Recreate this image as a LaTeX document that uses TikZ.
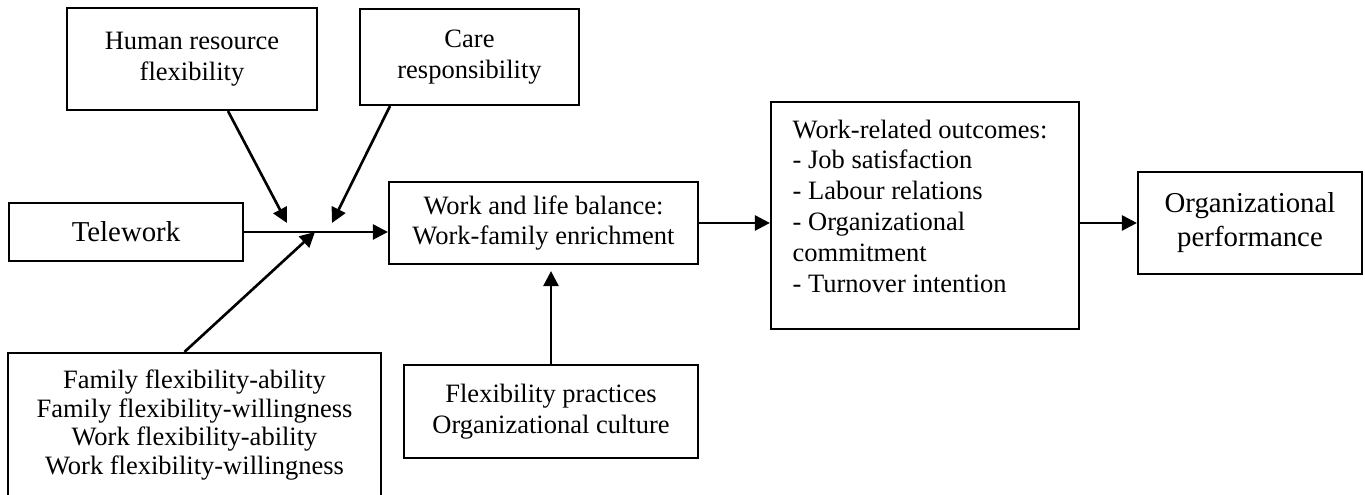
\documentclass[tikz,border=0pt]{standalone}
\usepackage{fontspec}
\setmainfont{Liberation Serif}
\usetikzlibrary{arrows.meta,calc}

\begin{document}
\begin{tikzpicture}[
  box/.style={draw, line width=.62pt, inner sep=0pt, align=center,
    font=\fontsize{7.54}{8.76}\selectfont},
  bigbox/.style={box, font=\fontsize{8.2}{9.7}\selectfont},
  arr/.style={line width=.75pt, -{Triangle[length=1.5mm,width=1.5mm]}}]
\useasboundingbox (0,0) rectangle (13.65,4.95);
  % moderators on top
  \node[box, minimum width=2.5cm, minimum height=1.02cm] (hrf) at (1.92,4.36) {Human resource\\flexibility};
  \node[box, minimum width=2.19cm, minimum height=.96cm] (care) at (4.695,4.38) {Care\\responsibility};
  % main chain
  \node[bigbox, minimum width=2.34cm, minimum height=.58cm] (tele) at (1.26,2.63) {Telework};
  \node[box, minimum width=3.09cm, minimum height=.82cm] (wlb) at (5.435,2.72) {Work and life balance:\\Work-family enrichment};
  \node[box, minimum width=3.08cm, minimum height=2.27cm] (outc) at (9.25,2.795) {};
  \node[anchor=north west, inner sep=0pt, align=left, font=\fontsize{7.54}{8.76}\selectfont] (outctxt) at (7.92,3.76)
    {Work-related outcomes:\\- Job satisfaction\\- Labour relations\\- Organizational\\commitment\\- Turnover intention};
  \node[bigbox, minimum width=2.24cm, minimum height=1.02cm] (perf) at (12.5,2.72) {Organizational\\performance};
  % bottom boxes (the family one runs off the page)
  \node[box, font=\fontsize{7.54}{8.2}\selectfont, minimum width=3.73cm, minimum height=1.44cm] (fam) at (1.945,.70)
    {Family flexibility-ability\\Family flexibility-willingness\\Work flexibility-ability\\Work flexibility-willingness};
  \node[box, minimum width=2.94cm, minimum height=.93cm] (prac) at (5.51,.835) {Flexibility practices\\Organizational culture};

  \coordinate (hrtip) at (2.87,2.72);
  \coordinate (caretip) at (3.32,2.72);
  \coordinate (famtip) at (3.15,2.63);

  \draw[arr] (tele.east) -- (tele.east -| wlb.west);
  \draw[arr] ([xshift=.36cm]hrf.south) -- (hrtip);
  \draw[arr] ([xshift=-.795cm]care.south) -- (caretip);
  \draw[arr] ([xshift=-.1cm]fam.north) -- (famtip);
  \draw[arr] (wlb.east) -- (wlb.east -| outc.west);
  \draw[arr] (outc.east |- perf) -- (perf.west);
  \draw[arr, shorten >=.6mm] (prac.north) -- (prac.north |- wlb.south);
\end{tikzpicture}
\end{document}
